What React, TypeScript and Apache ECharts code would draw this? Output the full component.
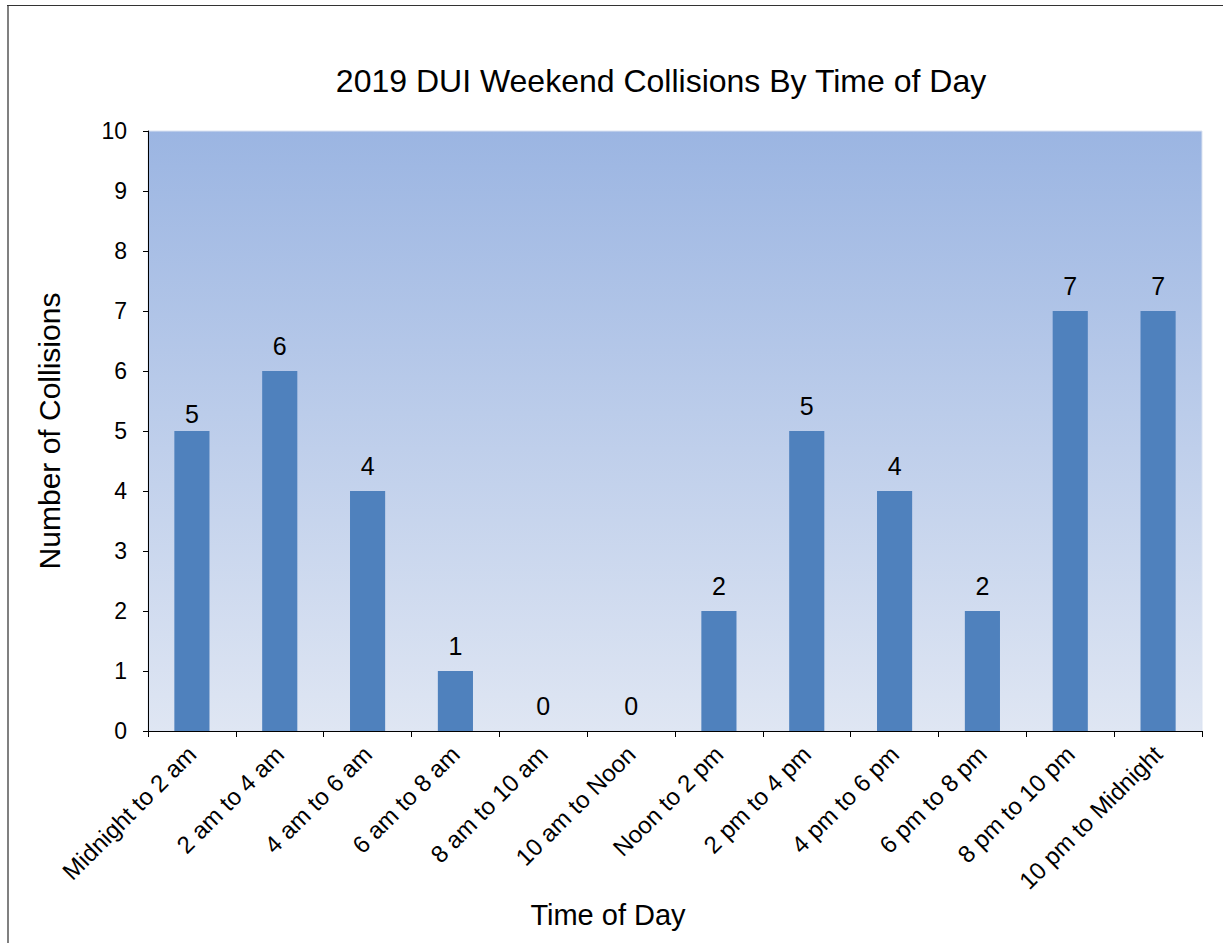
import React, { useEffect, useRef } from "react";
import * as echarts from "echarts";

const categories = [
  "Midnight to 2 am",
  "2 am to 4 am",
  "4 am to 6 am",
  "6 am to 8 am",
  "8 am to 10 am",
  "10 am to Noon",
  "Noon to 2 pm",
  "2 pm to 4 pm",
  "4 pm to 6 pm",
  "6 pm to 8 pm",
  "8 pm to 10 pm",
  "10 pm to Midnight",
];
const collisions = [5, 6, 4, 1, 0, 0, 2, 5, 4, 2, 7, 7];

const FONT = "'Liberation Sans', Arial, sans-serif";

export default function App() {
  const ref = useRef<HTMLDivElement>(null);

  useEffect(() => {
    if (!ref.current) return;
    const chart = echarts.init(ref.current, undefined, { renderer: "svg" });
    // the first label sits closer to its bar than the rest
    const barData = collisions.map((v, i) =>
      i === 0 ? { value: v, label: { distance: 5 } } : v
    );
    chart.setOption({
      animation: false,
      backgroundColor: "#ffffff",
      textStyle: { fontFamily: FONT, color: "#000" },
      title: {
        text: "2019 DUI Weekend Collisions By Time of Day",
        left: 656,
        textAlign: "center",
        top: 60,
        textStyle: { fontFamily: FONT, fontSize: 32, fontWeight: "normal", color: "#000" },
      },
      graphic: [
        { type: "line", shape: { x1: 8, y1: 5, x2: 8, y2: 943 }, style: { stroke: "#808080", lineWidth: 2 } },
        { type: "line", shape: { x1: 7, y1: 5.5, x2: 1223, y2: 5.5 }, style: { stroke: "#333333", lineWidth: 1 } },
      ],
      grid: {
        left: 148,
        top: 131,
        right: 21,
        bottom: 212,
        show: true,
        borderWidth: 1,
        borderColor: "#dbe3f1",
        backgroundColor: {
          type: "linear",
          x: 0,
          y: 0,
          x2: 0,
          y2: 1,
          colorStops: [
            { offset: 0, color: "#9bb5e2" },
            { offset: 1, color: "#dfe6f3" },
          ],
        },
      },
      xAxis: {
        type: "category",
        data: categories,
        name: "Time of Day",
        nameLocation: "middle",
        nameGap: 166,
        nameTextStyle: {
          fontFamily: FONT,
          fontSize: 29,
          color: "#000",
          padding: [0, 134, 0, 0],
        },
        axisLine: { lineStyle: { color: "#000", width: 1 } },
        axisTick: { show: true, length: 6, lineStyle: { color: "#000" } },
        axisLabel: {
          rotate: 45,
          interval: 0,
          margin: 19,
          fontFamily: FONT,
          fontSize: 24,
          color: "#000",
        },
      },
      yAxis: {
        type: "value",
        min: 0,
        max: 10,
        interval: 1,
        name: "Number of Collisions",
        nameLocation: "middle",
        nameGap: 84,
        nameTextStyle: { fontFamily: FONT, fontSize: 30, color: "#000" },
        axisLine: { show: true, lineStyle: { color: "#000", width: 1 } },
        axisTick: { show: true, length: 5, lineStyle: { color: "#000" } },
        axisLabel: { fontFamily: FONT, fontSize: 23, color: "#000", margin: 21 },
        splitLine: { show: false },
      },
      series: [
        {
          type: "bar",
          data: barData,
          barWidth: "40%",
          itemStyle: { color: "#4f81bd" },
          label: {
            show: true,
            position: "top",
            distance: 13,
            fontFamily: FONT,
            fontSize: 25,
            color: "#000",
          },
        },
      ],
    });
    return () => chart.dispose();
  }, []);

  return (
    <div
      ref={ref}
      style={{ position: "fixed", left: 0, top: 0, width: 1223, height: 943 }}
    />
  );
}
